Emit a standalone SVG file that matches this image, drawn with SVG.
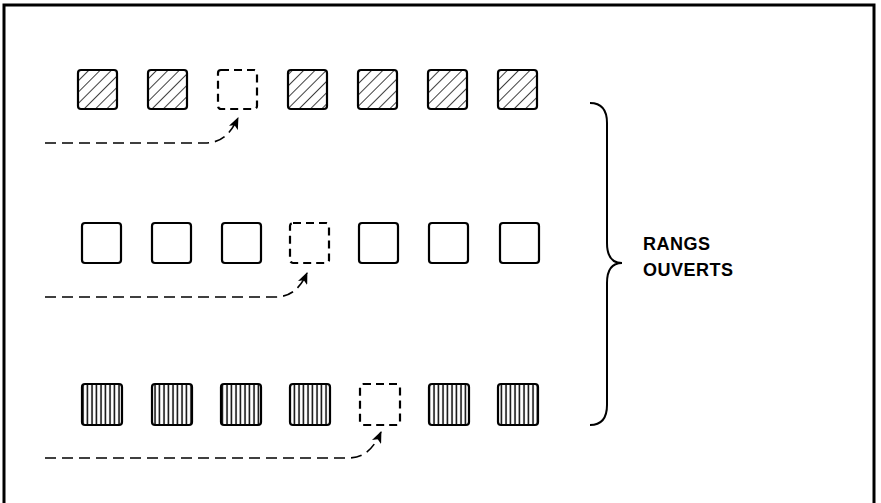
<svg xmlns="http://www.w3.org/2000/svg" width="881" height="503" viewBox="0 0 881 503">
<style>
.sq{stroke:#000;stroke-width:2.2}
.hat{fill:url(#diag)}
.ver{fill:url(#vert)}
.open{fill:#fff}
.dash{fill:#fff;stroke-dasharray:8 5}
.conn{fill:none;stroke:#000;stroke-width:1.6;stroke-dasharray:11 6}
.brace{fill:none;stroke:#000;stroke-width:2}
.lbl{font-family:"Liberation Sans",Arial,sans-serif;font-weight:bold;font-size:18px;letter-spacing:0.5px;fill:#000}
</style>
<defs>
<pattern id="diag" patternUnits="userSpaceOnUse" width="8" height="8" patternTransform="rotate(45)">
<rect width="8" height="8" fill="#fff"/>
<line x1="0" y1="0" x2="0" y2="8" stroke="#000" stroke-width="1.5"/>
</pattern>
<pattern id="vert" patternUnits="userSpaceOnUse" width="4.5" height="10">
<rect width="4.5" height="10" fill="#fff"/>
<line x1="2" y1="0" x2="2" y2="10" stroke="#000" stroke-width="1.5"/>
</pattern>
<marker id="ah" viewBox="0 0 12 10" refX="11" refY="5" markerWidth="13" markerHeight="10" markerUnits="userSpaceOnUse" orient="auto">
<path d="M0,0 L12,5 L0,10 L3,5 z" fill="#000"/>
</marker>
</defs>
<rect x="4" y="5" width="870" height="510" fill="none" stroke="#000" stroke-width="3"/>
<g id="row1">
<rect id="r1c1" class="sq hat" x="78" y="70" width="39" height="39" rx="3"/>
<rect id="r1c2" class="sq hat" x="148" y="70" width="39" height="39" rx="3"/>
<rect id="r1c3" class="sq dash" x="218" y="70" width="39" height="39" rx="3"/>
<rect id="r1c4" class="sq hat" x="288" y="70" width="39" height="39" rx="3"/>
<rect id="r1c5" class="sq hat" x="358" y="70" width="39" height="39" rx="3"/>
<rect id="r1c6" class="sq hat" x="428" y="70" width="39" height="39" rx="3"/>
<rect id="r1c7" class="sq hat" x="498" y="70" width="39" height="39" rx="3"/>
</g>
<g id="row2">
<rect id="r2c1" class="sq open" x="82" y="223" width="39" height="40" rx="3"/>
<rect id="r2c2" class="sq open" x="152" y="223" width="39" height="40" rx="3"/>
<rect id="r2c3" class="sq open" x="222" y="223" width="39" height="40" rx="3"/>
<rect id="r2c4" class="sq dash" x="290" y="223" width="39" height="40" rx="3"/>
<rect id="r2c5" class="sq open" x="359" y="223" width="39" height="40" rx="3"/>
<rect id="r2c6" class="sq open" x="429" y="223" width="39" height="40" rx="3"/>
<rect id="r2c7" class="sq open" x="500" y="223" width="39" height="40" rx="3"/>
</g>
<g id="row3">
<rect id="r3c1" class="sq ver" x="82" y="384" width="40" height="41" rx="3"/>
<rect id="r3c2" class="sq ver" x="152" y="384" width="40" height="41" rx="3"/>
<rect id="r3c3" class="sq ver" x="221" y="384" width="40" height="41" rx="3"/>
<rect id="r3c4" class="sq ver" x="290" y="384" width="40" height="41" rx="3"/>
<rect id="r3c5" class="sq dash" x="360" y="384" width="40" height="41" rx="3"/>
<rect id="r3c6" class="sq ver" x="429" y="384" width="40" height="41" rx="3"/>
<rect id="r3c7" class="sq ver" x="498" y="384" width="40" height="41" rx="3"/>
</g>
<g id="connectors">
<path class="conn" d="M45,143 L205,143 C220,143 230,135 238,118" marker-end="url(#ah)"/>
<path class="conn" d="M45,297 L275,297 C290,297 300,289 307,273" marker-end="url(#ah)"/>
<path class="conn" d="M45,458 L348,458 C363,458 373,450 381,432" marker-end="url(#ah)"/>
</g>
<g id="brace">
<path class="brace" d="M590,103 C602,103 607,110 607,123 L607,243 C607,256 612,263 622,263 C612,263 607,270 607,283 L607,405 C607,418 602,425 590,425"/>
</g>
<g id="label">
<text class="lbl" x="643" y="250">RANGS</text>
<text class="lbl" x="643" y="276">OUVERTS</text>
</g>
</svg>
